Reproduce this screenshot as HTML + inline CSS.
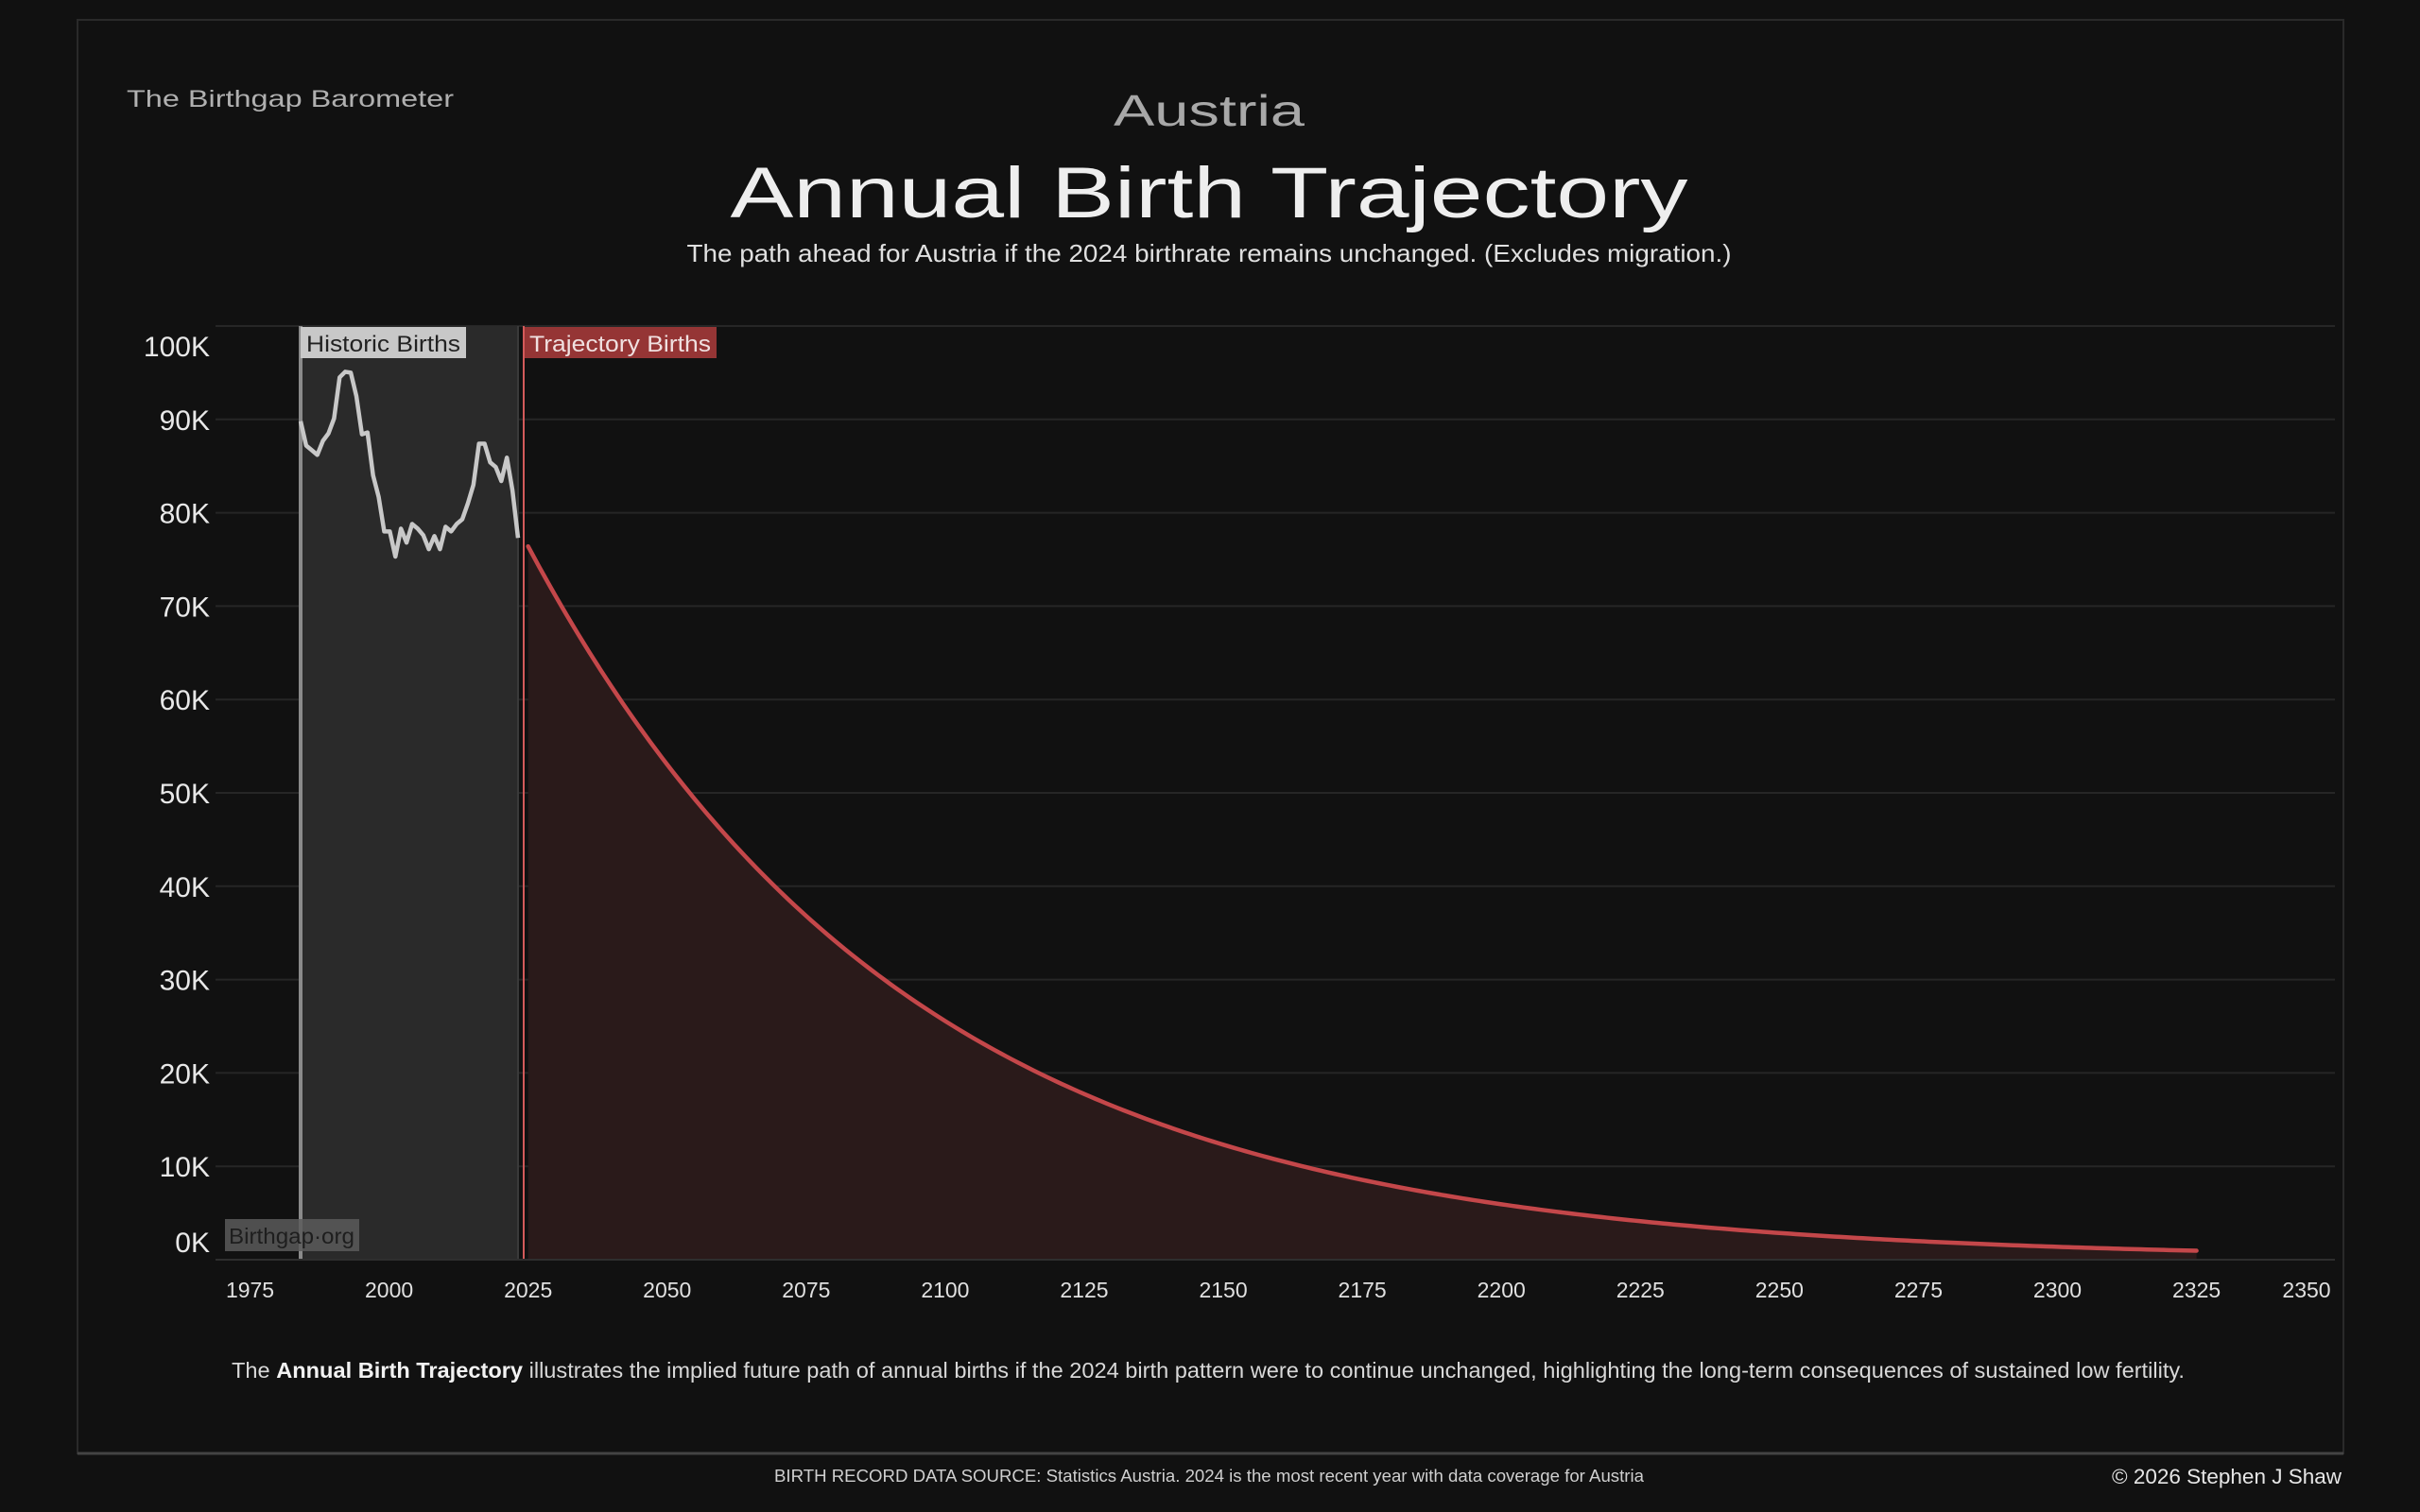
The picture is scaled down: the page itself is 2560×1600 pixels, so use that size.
<!DOCTYPE html>
<html><head><meta charset="utf-8"><style>
html,body{margin:0;padding:0;background:#111111;}
svg{display:block;}
text{font-family:"Liberation Sans","DejaVu Sans",sans-serif;}
</style></head><body>
<svg id="s" width="2560" height="1600" viewBox="0 0 2560 1600" xmlns="http://www.w3.org/2000/svg">
<rect width="2560" height="1600" fill="#111111"/>
<rect x="82" y="21" width="2397" height="1517" fill="none" stroke="#2a2a2a" stroke-width="2"/>
<line x1="82" y1="1538" x2="2479" y2="1538" stroke="#444" stroke-width="3"/>
<text x="134" y="113" font-size="25" fill="#b0b0b0" textLength="346" lengthAdjust="spacingAndGlyphs">The Birthgap Barometer</text>
<text x="1279" y="133" font-size="46" fill="#a8a8a8" text-anchor="middle" textLength="202" lengthAdjust="spacingAndGlyphs">Austria</text>
<text x="1279" y="230" font-size="76" fill="#eeeeee" text-anchor="middle" textLength="1013" lengthAdjust="spacingAndGlyphs">Annual Birth Trajectory</text>
<text x="1279" y="277" font-size="26" fill="#e0e0e0" text-anchor="middle" textLength="1105" lengthAdjust="spacingAndGlyphs">The path ahead for Austria if the 2024 birthrate remains unchanged.  (Excludes migration.)</text>
<g id="grid"></g>
<g id="plot"></g>
<text x="1278" y="1458" font-size="23" fill="#d8d8d8" text-anchor="middle" textLength="2066" lengthAdjust="spacingAndGlyphs">The <tspan font-weight="bold" fill="#f2f2f2">Annual Birth Trajectory</tspan> illustrates the implied future path of annual births if the 2024 birth pattern were to continue unchanged, highlighting the long-term consequences of sustained low fertility.</text>
<text x="1279" y="1568" font-size="18" fill="#cfcfcf" text-anchor="middle" textLength="920" lengthAdjust="spacingAndGlyphs">BIRTH RECORD DATA SOURCE: Statistics Austria. 2024 is the most recent year with data coverage for Austria</text>
<text x="2477" y="1570" font-size="22" fill="#e6e6e6" text-anchor="end" textLength="243" lengthAdjust="spacingAndGlyphs">© 2026 Stephen J Shaw</text>
</svg>
<script>
var NS="http://www.w3.org/2000/svg";
function el(p,t,a,txt){var e=document.createElementNS(NS,t);for(var k in a)e.setAttribute(k,a[k]);if(txt!==undefined)e.textContent=txt;p.appendChild(e);return e;}
var g=document.getElementById('grid'),pl=document.getElementById('plot');
var X=function(y){return 411.6+(y-2000)*5.883;};
var Y=function(v){return 1333-v*9.88;};
for(var k=0;k<=10;k++){var yy=Y(k*10);
 if(k>0) el(g,'line',{x1:228,x2:2470,y1:yy,y2:yy,stroke:'#262626','stroke-width':2});
 var ly=k==10?377:(k==0?1325:yy+11);
 el(g,'text',{x:222,y:ly,'font-size':30,fill:'#e8e8e8','text-anchor':'end'},(k*10)+'K');}
for(var yr=1975;yr<=2350;yr+=25){el(g,'text',{x:(yr==2350?2440:X(yr)),y:1373,'font-size':23,fill:'#e0e0e0','text-anchor':'middle'},yr);}
var h=[89.8,87.2,86.7,86.2,87.7,88.5,90.1,94.5,95.1,95,92.5,88.4,88.6,84,81.7,78,78,75.3,78.3,76.8,78.8,78.3,77.6,76.1,77.5,76.1,78.5,78,78.8,79.3,81,83,87.4,87.4,85.4,84.9,83.4,85.9,82.4,77.3];
var x0=318;
var pts=h.map(function(v,i){return [x0+i*(548-x0)/(h.length-1),Y(v)];});
el(pl,'rect',{x:318,y:345,width:230,height:988,fill:'#2a2a2a'});
el(pl,'line',{x1:318,x2:318,y1:345,y2:1333,stroke:'#8a8a8a','stroke-width':4});
el(pl,'line',{x1:548,x2:548,y1:345,y2:1333,stroke:'#3a3a3a','stroke-width':2});
el(pl,'polyline',{points:pts.map(function(p){return p.join(',')}).join(' '),fill:'none',stroke:'#c8c8c8','stroke-width':4.5,'stroke-linejoin':'round'});
var tp=[],area='M'+X(2025)+','+1333;
for(var yr=2025;yr<=2325;yr+=1){var v=76.4*Math.exp(-0.0146*(yr-2025));tp.push(X(yr)+','+Y(v));area+=' L'+X(yr)+','+Y(v);}
area+=' L'+X(2325)+',1333 Z';
el(pl,'path',{d:area,fill:'#2a1a1a'});
el(pl,'polyline',{points:tp.join(' '),fill:'none',stroke:'#c4474a','stroke-width':4.5,'stroke-linecap':'round'});
el(pl,'line',{x1:554,x2:554,y1:345,y2:1333,stroke:'#d25a5a','stroke-width':2});
el(pl,'line',{x1:228,x2:2470,y1:1333,y2:1333,stroke:'#2e2e2e','stroke-width':2});
el(pl,'rect',{x:318,y:346,width:175,height:33,fill:'#c8c8c8'});
el(pl,'text',{x:324,y:372,'font-size':24,fill:'#222',textLength:163,lengthAdjust:'spacingAndGlyphs'},'Historic Births');
el(pl,'rect',{x:555,y:346,width:203,height:33,fill:'#953535'});
el(pl,'text',{x:560,y:372,'font-size':24,fill:'#f0e0e0',textLength:192,lengthAdjust:'spacingAndGlyphs'},'Trajectory Births');
el(pl,'rect',{x:238,y:1290,width:142,height:34,fill:'#5a5a5a','fill-opacity':0.85});
el(pl,'text',{x:242,y:1316,'font-size':23,fill:'#1e1e1e',textLength:133,lengthAdjust:'spacingAndGlyphs'},'Birthgap·org');
</script>
</body></html>
